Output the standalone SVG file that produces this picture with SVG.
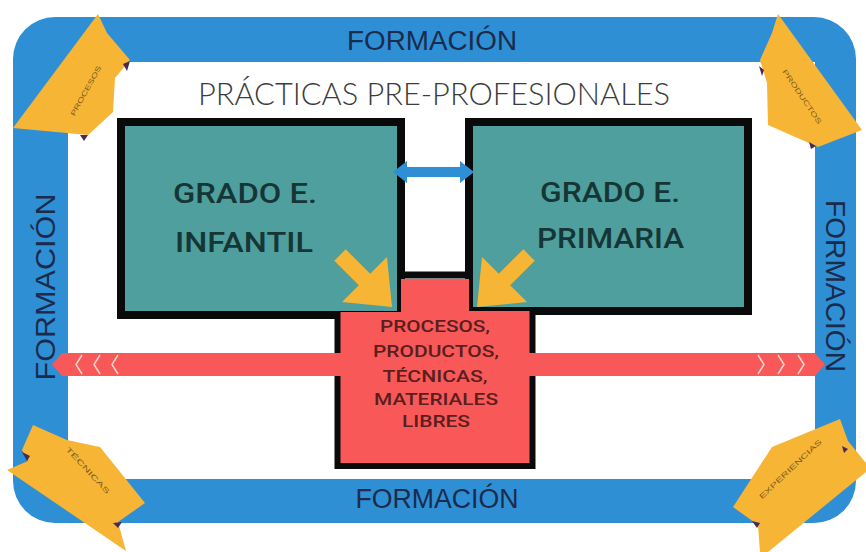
<svg xmlns="http://www.w3.org/2000/svg" width="866" height="552" viewBox="0 0 866 552">
<style>
.frame{fill:#2f8fd5}
.form{font-family:"Liberation Sans",Arial,sans-serif;font-size:27px;fill:#1b2b4b}
.title{font-family:Lato,"Liberation Sans",Arial,sans-serif;font-weight:300;font-size:31px;fill:#3c3c3c}
.teal{fill:#4f9f9e;stroke:#0a0a0a;stroke-width:8}
.grado{font-family:Roboto,"Open Sans","Liberation Sans",sans-serif;font-weight:500;font-size:28px;fill:#163636}
.redt{font-family:Roboto,"Open Sans","Liberation Sans",sans-serif;font-weight:500;font-size:17px;fill:#5a1e1e;text-anchor:middle}
.yel{fill:#f6b535}
.notch{fill:#4a2a55}
.lab{font-family:"Liberation Sans",Arial,sans-serif;font-size:7px;fill:#7a5a20;text-anchor:middle}
.chev{fill:none;stroke:#ffd6cc;stroke-width:1.5}
</style>
<rect width="866" height="552" fill="#ffffff"/>
<g id="frame">
<path class="frame" fill-rule="evenodd" d="M55,17 H814 A42,42 0 0 1 856,59 V481 A42,42 0 0 1 814,523 H55 A42,42 0 0 1 13,481 V59 A42,42 0 0 1 55,17 Z M68,62 V479 H815 V62 Z"/>
<text class="form" x="432" y="50" text-anchor="middle" textLength="170" lengthAdjust="spacingAndGlyphs">FORMACIÓN</text>
<text class="form" x="437" y="508" text-anchor="middle" textLength="163" lengthAdjust="spacingAndGlyphs">FORMACIÓN</text>
<text class="form" transform="translate(55,287) rotate(-90)" text-anchor="middle" textLength="187" lengthAdjust="spacingAndGlyphs">FORMACIÓN</text>
<text class="form" transform="translate(826,286) rotate(90)" text-anchor="middle" textLength="172" lengthAdjust="spacingAndGlyphs">FORMACIÓN</text>
</g>
<g id="title">
<text class="title" x="434" y="105" text-anchor="middle" textLength="472" lengthAdjust="spacingAndGlyphs">PRÁCTICAS PRE-PROFESIONALES</text>
</g>
<g id="infantil">
<rect class="teal" x="121" y="122" width="280" height="193"/>
<text class="grado" x="173" y="203" textLength="144" lengthAdjust="spacingAndGlyphs">GRADO E.</text>
<text class="grado" x="175" y="252" textLength="138" lengthAdjust="spacingAndGlyphs">INFANTIL</text>
</g>
<g id="primaria">
<rect class="teal" x="469" y="122" width="279" height="189"/>
<text class="grado" x="540" y="202" textLength="140" lengthAdjust="spacingAndGlyphs">GRADO E.</text>
<text class="grado" x="537" y="248" textLength="147" lengthAdjust="spacingAndGlyphs">PRIMARIA</text>
</g>
<g id="centro">
<polygon points="338,312 401,312 401,279 469,279 469,311 532,311 532,466 338,466" fill="#f95858"/>
<polyline points="401,118 401,275 469,275 469,118" fill="none" stroke="#0a0a0a" stroke-width="7"/>
<polyline points="337.5,311 337.5,466 532.5,466 532.5,308" fill="none" stroke="#0a0a0a" stroke-width="6"/>
<rect x="405" y="116" width="60" height="4" fill="#ffffff"/>
</g>
<g id="connectors">
<path d="M62,353 H815 L825,364.5 L815,376 H62 L52,364.5 Z" fill="#f95858"/>
<path class="chev" d="M82,355 L76,364.5 L82,374 M100,355 L94,364.5 L100,374 M118,355 L112,364.5 L118,374"/>
<path class="chev" d="M758,355 L764,364.5 L758,374 M778,355 L784,364.5 L778,374 M798,355 L804,364.5 L798,374"/>
<polygon points="393,172 407,161 407,167 460,167 460,161 474,172 460,183 460,177 407,177 407,183" fill="#2f8fd5"/>
<polygon class="yel" points="345.7,249.3 370.2,273.8 387,257 392,307 342,302 358.8,285.2 334.3,260.7"/>
<polygon class="yel" points="523.3,249.3 498.8,273.8 482,257 477,307 527,302 510.2,285.2 534.7,260.7"/>
</g>
<g id="procesos">
<polygon class="yel" points="98,14 107,33 130,60 115,78 113,112 88,135 13,128"/>
<polygon class="notch" points="123,64 130,61 127,71"/>
<polygon class="notch" points="80,135 88,135 84,141"/>
<text class="lab" transform="translate(88,92) rotate(-61)" textLength="56" lengthAdjust="spacingAndGlyphs">PROCESOS</text>
</g>
<g id="productos">
<polygon class="yel" points="778,14 862,130 818,147 768,125 767,83 760,60 772,33"/>
<polygon class="notch" points="759,66 764,70 762,76"/>
<polygon class="notch" points="809,142 816,146 811,149"/>
<text class="lab" transform="translate(800,98) rotate(56)" textLength="64" lengthAdjust="spacingAndGlyphs">PRODUCTOS</text>
</g>
<g id="tecnicas">
<polygon class="yel" points="33,425 67,440 100,447 145,503 118,522 126,551 7,470 28,461 22,450"/>
<polygon class="notch" points="22,452 30,456 27,461"/>
<polygon class="notch" points="113,523 122,522 118,528"/>
<text class="lab" transform="translate(86,472) rotate(47)" textLength="61" lengthAdjust="spacingAndGlyphs">TÉCNICAS</text>
</g>
<g id="experiencias">
<polygon class="yel" points="840,419 848,441 866,463 866,472 768,552 760,552 758,525 733,507 772,447"/>
<polygon class="notch" points="842,446 848,449 844,453"/>
<polygon class="notch" points="752,521 760,523 757,528"/>
<text class="lab" transform="translate(792,471) rotate(-43.5)" textLength="83" lengthAdjust="spacingAndGlyphs">EXPERIENCIAS</text>
</g>
<g id="texto-centro">
<text class="redt" x="435" y="332" textLength="110" lengthAdjust="spacingAndGlyphs">PROCESOS,</text>
<text class="redt" x="436" y="357" textLength="126" lengthAdjust="spacingAndGlyphs">PRODUCTOS,</text>
<text class="redt" x="435" y="382" textLength="105" lengthAdjust="spacingAndGlyphs">TÉCNICAS,</text>
<text class="redt" x="436" y="405" textLength="124" lengthAdjust="spacingAndGlyphs">MATERIALES</text>
<text class="redt" x="436" y="427" textLength="68" lengthAdjust="spacingAndGlyphs">LIBRES</text>
</g>
</svg>
